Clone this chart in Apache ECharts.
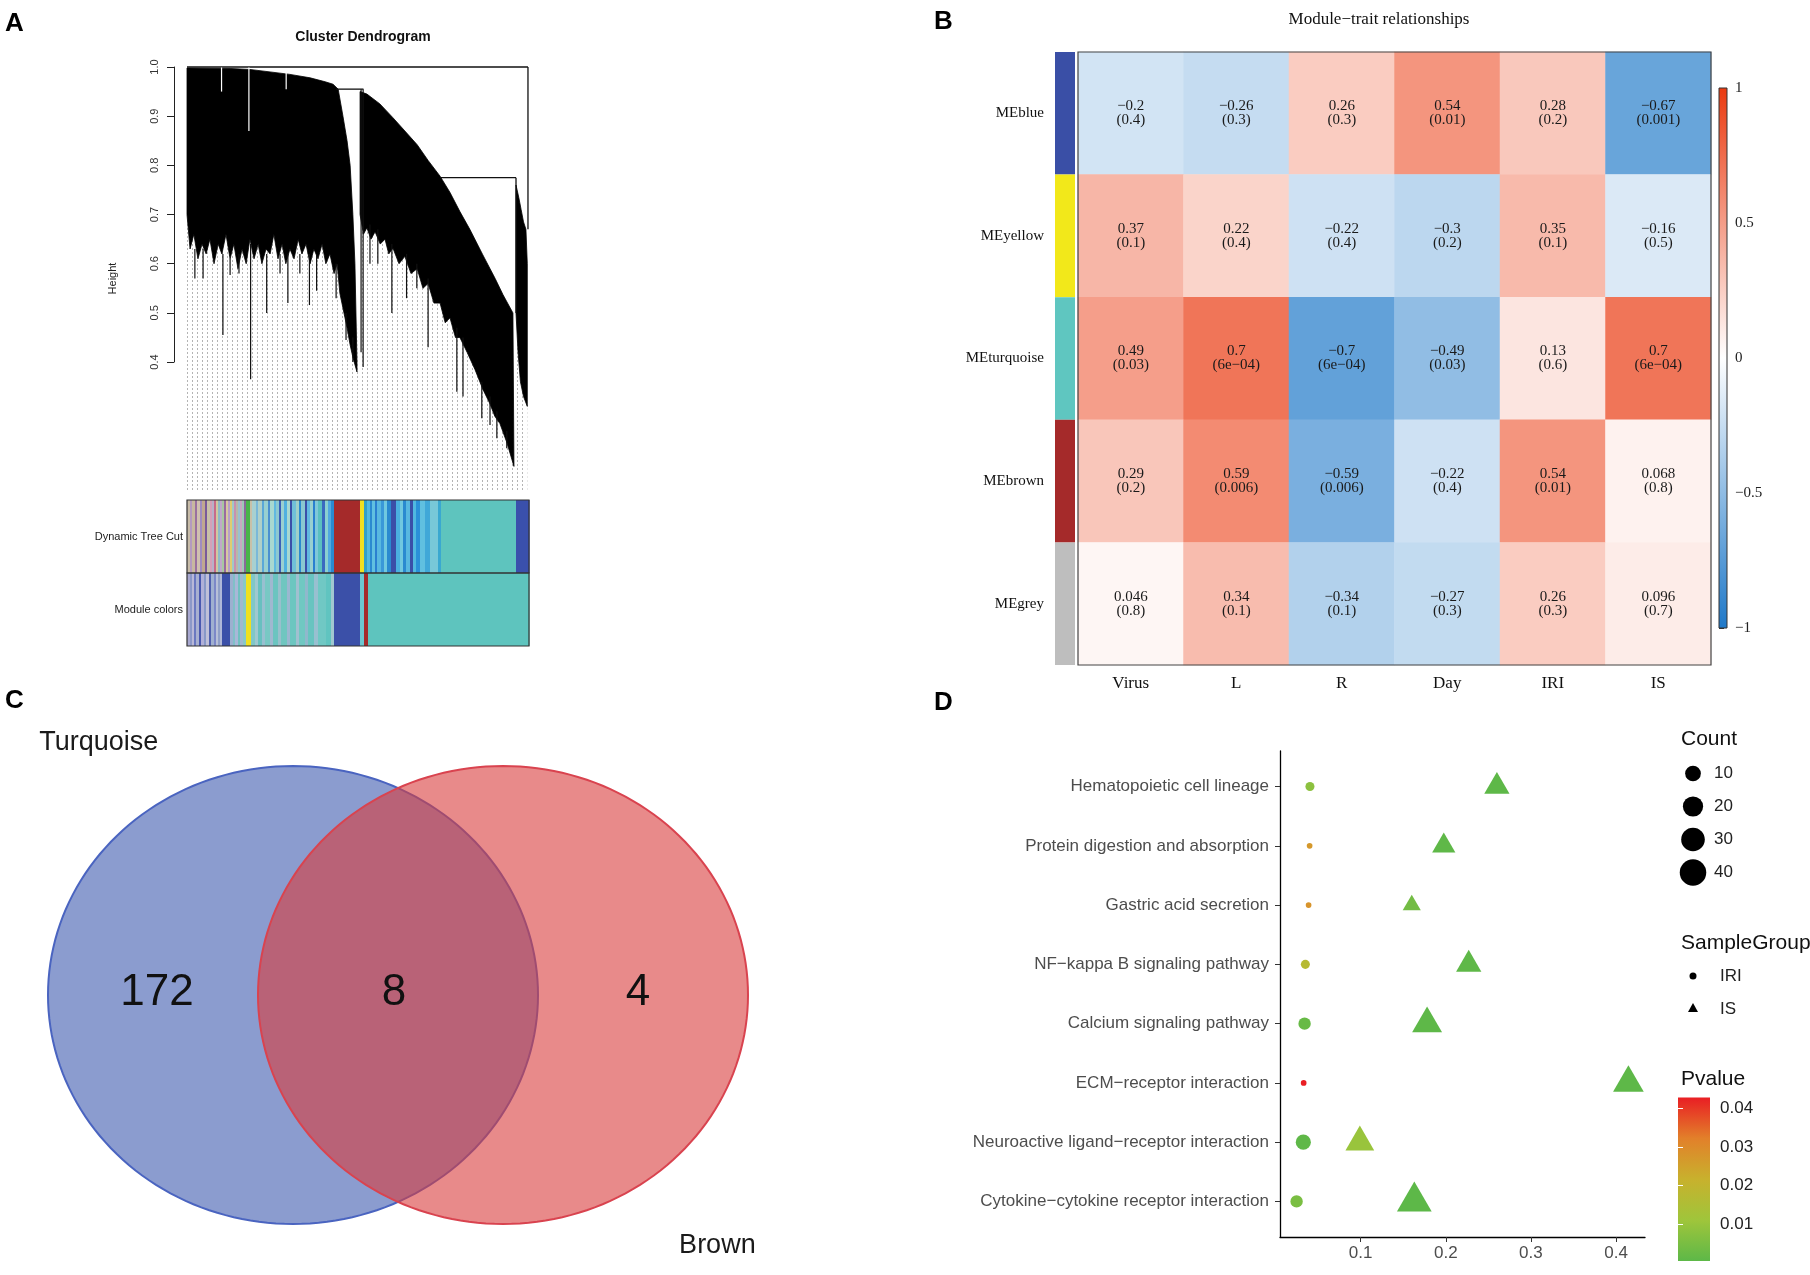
<!DOCTYPE html>
<html><head><meta charset="utf-8">
<script src="https://cdn.jsdelivr.net/npm/echarts@6/dist/echarts.min.js"></script>
<style>html,body{margin:0;padding:0;background:#fff}#c{width:1810px;height:1275px}</style>
</head><body><div id="c"></div>
<script>
// ---------------- Panel A : dendrogram (leaf position 0..1, merge height) ----------------
const heightTicks = [0.4, 0.5, 0.6, 0.7, 0.8, 0.9, 1.0];
const block1Upper = [[0.000,0.998],[0.126,0.997],[0.184,0.995],[0.243,0.990],[0.301,0.985],[0.360,0.978],[0.404,0.970],[0.427,0.965],[0.442,0.955],[0.456,0.900],[0.468,0.850],[0.477,0.800],[0.485,0.700],[0.491,0.600],[0.497,0.400]];
const block1Lower = [[0.000,0.70],[0.009,0.63],[0.020,0.66],[0.032,0.61],[0.044,0.64],[0.056,0.62],[0.067,0.65],[0.079,0.60],[0.091,0.64],[0.102,0.62],[0.114,0.66],[0.126,0.61],[0.137,0.64],[0.149,0.59],[0.161,0.63],[0.173,0.60],[0.184,0.65],[0.196,0.61],[0.208,0.64],[0.219,0.60],[0.231,0.63],[0.243,0.62],[0.254,0.66],[0.266,0.61],[0.278,0.64],[0.289,0.60],[0.301,0.63],[0.313,0.61],[0.325,0.65],[0.336,0.62],[0.348,0.64],[0.360,0.60],[0.371,0.63],[0.383,0.61],[0.395,0.64],[0.406,0.60],[0.418,0.62],[0.430,0.58],[0.439,0.60],[0.447,0.54],[0.456,0.51],[0.468,0.47],[0.477,0.435],[0.485,0.41],[0.497,0.38]];
const block2Upper = [[0.506,0.950],[0.526,0.945],[0.564,0.925],[0.602,0.897],[0.637,0.870],[0.673,0.842],[0.705,0.810],[0.740,0.778],[0.769,0.745],[0.798,0.706],[0.827,0.670],[0.865,0.618],[0.901,0.570],[0.924,0.537],[0.953,0.500],[0.956,0.190]];
const block2Lower = [[0.506,0.70],[0.516,0.66],[0.526,0.673],[0.538,0.65],[0.550,0.665],[0.565,0.64],[0.579,0.650],[0.590,0.62],[0.602,0.632],[0.620,0.60],[0.637,0.615],[0.655,0.58],[0.673,0.590],[0.690,0.55],[0.705,0.560],[0.722,0.52],[0.740,0.520],[0.755,0.48],[0.769,0.490],[0.785,0.45],[0.798,0.450],[0.819,0.420],[0.842,0.385],[0.865,0.345],[0.886,0.315],[0.900,0.29],[0.915,0.275],[0.936,0.235],[0.956,0.188]];
const block3Upper = [[0.962,0.760],[0.970,0.735],[0.977,0.710],[0.984,0.685],[0.991,0.670],[0.995,0.600]];
const block3Lower = [[0.962,0.50],[0.968,0.42],[0.975,0.36],[0.984,0.33],[0.995,0.31]];
// merges: [leafFrom, height, leafTo, height]
const dendroMerges = [[0,1.0,0.997,1.0],[0.997,1.0,0.997,0.67],[0.436,0.955,0.516,0.955],[0.740,0.775,0.962,0.775],[0.962,0.775,0.962,0.50]];
// spikes: [leaf, from height, tip height]
const dendroSpikes = [[0.023,0.63,0.57],[0.047,0.63,0.57],[0.105,0.62,0.455],[0.126,0.61,0.577],[0.152,0.62,0.58],[0.186,0.64,0.365],[0.233,0.62,0.50],[0.272,0.62,0.58],[0.295,0.62,0.52],[0.330,0.62,0.58],[0.358,0.62,0.516],[0.379,0.62,0.545],[0.436,0.60,0.53],[0.465,0.50,0.445],[0.485,0.45,0.40],[0.509,0.955,0.42],[0.515,0.955,0.39],[0.535,0.68,0.60],[0.558,0.67,0.60],[0.599,0.64,0.50],[0.642,0.62,0.53],[0.672,0.60,0.55],[0.705,0.57,0.43],[0.789,0.47,0.34],[0.807,0.45,0.33],[0.862,0.36,0.286],[0.886,0.33,0.272],[0.906,0.30,0.245],[0.935,0.26,0.225]];
const dendroGaps = [[0.101,0.999,0.95],[0.181,0.999,0.87],[0.290,0.99,0.955]];
// colour rows: [relative width, colour]
const treeCutSegments = [[3,'#c8bca8'],[2,'#b49ac0'],[3,'#c8b8a0'],[2,'#9a70a0'],[3,'#d0c0b0'],[2,'#a08cc0'],[3,'#c0a890'],[2,'#7a5a9a'],[3,'#c8c0a8'],[2,'#d4a0b8'],[2,'#b8b0c8'],[2,'#c86a8a'],[2,'#d0c8a0'],[2,'#8fb8c8'],[2,'#c0a8c8'],[2,'#a8c8a0'],[2,'#9a6aa0'],[2,'#d8c8a0'],[2,'#b8a0c8'],[2,'#e0cc70'],[2,'#a0c8c8'],[2,'#c890b0'],[2,'#b8b8a8'],[2,'#9ac0d0'],[2,'#c8a8c0'],[2,'#a0c8b8'],[2,'#8a6a9a'],[4,'#48b448'],[2,'#c8c0a8'],[4,'#a8d0d0'],[2,'#7ab8d8'],[4,'#b0d0c8'],[2,'#5aa8d8'],[4,'#98d0d0'],[2,'#4a90d0'],[4,'#a8d8d0'],[2,'#60b8e0'],[3,'#8cc8d0'],[2,'#3a60b8'],[3,'#9ad0d0'],[3,'#50b0e0'],[3,'#a8d8d0'],[2,'#3b4fa8'],[4,'#70c0d8'],[3,'#a0d0c8'],[2,'#2a8ad0'],[4,'#8ac8d0'],[2,'#3b4fa8'],[3,'#60b8e0'],[3,'#98d0d0'],[2,'#2a80d0'],[3,'#80c8d8'],[4,'#5ac0c0'],[3,'#3a6ac0'],[3,'#8ad0d0'],[3,'#50a8e0'],[3,'#2a8ad0'],[26,'#a52a2a'],[4,'#f0e020'],[3,'#30a0c8'],[3,'#50b8e0'],[2,'#2a8ad0'],[3,'#60c0e0'],[2,'#2a80d0'],[4,'#58b8e0'],[3,'#3a98d8'],[3,'#70c8e0'],[4,'#2a8ad0'],[5,'#3b4fa8'],[4,'#4ab0e0'],[3,'#70c8e0'],[3,'#2a8ad0'],[4,'#58b8e0'],[3,'#3a4fa8'],[3,'#50b8e0'],[4,'#2a90d8'],[5,'#60c0e0'],[5,'#40a8d8'],[8,'#78c8d8'],[3,'#3aa8d0'],[75,'#5ec4be'],[13,'#3a50ac']];
const moduleColorSegments = [[3,'#a8a8d0'],[2,'#8c98c8'],[2,'#b8b8d8'],[2,'#6a78c0'],[3,'#a8b0d0'],[2,'#4a58b0'],[3,'#b0b0d8'],[2,'#8898c8'],[3,'#c0c0d8'],[2,'#5060b0'],[3,'#a0b0d0'],[2,'#7c88c8'],[2,'#b8c0d8'],[2,'#90a0c8'],[2,'#b0b8d8'],[8,'#3b50a8'],[3,'#9cb0d0'],[2,'#80c0c8'],[3,'#a8b8d8'],[2,'#70c0c0'],[3,'#a0b8d0'],[3,'#88c8c8'],[5,'#f0e020'],[4,'#80c8c8'],[3,'#a0c8d0'],[4,'#68c0c0'],[3,'#98c0d0'],[5,'#78c8c4'],[3,'#a0b8d0'],[5,'#6cc4c0'],[3,'#98c0cc'],[6,'#70c6c0'],[3,'#9ab8d0'],[6,'#6cc6c0'],[3,'#a0c0d0'],[6,'#70c8c2'],[3,'#90b8cc'],[6,'#68c4c0'],[4,'#98c0d0'],[8,'#70c8c4'],[5,'#60c4c0'],[3,'#a0c8d0'],[26,'#3b50a8'],[4,'#6cc8d0'],[4,'#a52a2a'],[161,'#5ec4be']];
const colorRows = ['Dynamic Tree Cut', 'Module colors'];

// ---------------- Panel B : module-trait heatmap ----------------
const modules = ['MEblue','MEyellow','MEturquoise','MEbrown','MEgrey'];
const moduleStripColors = ['#3a4fa6','#f2e81a','#5fc6c0','#a52a2a','#bebebe'];
const traits = ['Virus','L','R','Day','IRI','IS'];
const corValues = [
  [-0.2, -0.26, 0.26, 0.54, 0.28, -0.67],
  [0.37, 0.22, -0.22, -0.3, 0.35, -0.16],
  [0.49, 0.7, -0.7, -0.49, 0.13, 0.7],
  [0.29, 0.59, -0.59, -0.22, 0.54, 0.068],
  [0.046, 0.34, -0.34, -0.27, 0.26, 0.096]
];
const corPvalues = [
  [0.4, 0.3, 0.3, 0.01, 0.2, 0.001],
  [0.1, 0.4, 0.4, 0.2, 0.1, 0.5],
  [0.03, 0.0006, 0.0006, 0.03, 0.6, 0.0006],
  [0.2, 0.006, 0.006, 0.4, 0.01, 0.8],
  [0.8, 0.1, 0.1, 0.3, 0.3, 0.7]
];
const heatColors = ['#1e78c8', '#ffffff', '#ea3a10'];

// ---------------- Panel C : Venn ----------------
const vennSets = ['Turquoise', 'Brown'];
const vennCounts = [172, 8, 4]; // turquoise only, both, brown only

// ---------------- Panel D : KEGG dot plot ----------------
const pathways = ['Hematopoietic cell lineage','Protein digestion and absorption','Gastric acid secretion','NF\u2212kappa B signaling pathway','Calcium signaling pathway','ECM\u2212receptor interaction','Neuroactive ligand\u2212receptor interaction','Cytokine\u2212cytokine receptor interaction'];
const iriRatio  = [0.0404, 0.0400, 0.0388, 0.0350, 0.0341, 0.0330, 0.0326, 0.0247];
const iriCount  = [2, 1, 1, 2, 5, 1, 9, 5];
const iriPvalue = [0.008, 0.027, 0.028, 0.017, 0.002, 0.0429, 0.0008, 0.005];
const isRatio   = [0.260, 0.1976, 0.160, 0.2269, 0.178, 0.4145, 0.099, 0.163];
const isCount   = [20, 16, 8, 20, 31, 33, 28, 45];
const isPvalue  = [0.0006, 0.0008, 0.004, 0.0007, 0.0005, 0.0006, 0.010, 0.0004];
const countBreaks = [10, 20, 30, 40];
const groupNames = ['IRI', 'IS'];
const pvalueBreaks = [0.01, 0.02, 0.03, 0.04];
const pColors = ['#5db848', '#9fc53b', '#c8b12d', '#e2802a', '#e91e24'];

// ================= build =================
const SANS = 'Liberation Sans', SERIF = 'Liberation Serif';
const chart = echarts.init(document.getElementById('c'), null, {width:1810, height:1275});

const grids = [], xAxes = [], yAxes = [], series = [];
function addGrid(g, xa, ya){ grids.push(Object.assign({containLabel:false}, g)); const gi = grids.length-1;
  xAxes.push(Object.assign({gridIndex:gi}, xa)); yAxes.push(Object.assign({gridIndex:gi}, ya)); return gi; }

// --- A: axis only grid
const gAxis = addGrid({left:174, top:67, width:1, height:295},
  {type:'value', show:false, min:0, max:1},
  {type:'value', min:0.4, max:1.0, interval:0.1,
   axisLine:{show:true, lineStyle:{color:'#222', width:1}},
   axisTick:{show:true, length:7, lineStyle:{color:'#222'}},
   axisLabel:{rotate:90, fontSize:11, color:'#333', margin:14, formatter:v=>v.toFixed(1)},
   splitLine:{show:false}});
// --- A: dendrogram grid
const gDend = addGrid({left:187, top:67, width:342, height:423},
  {type:'value', show:false, min:0, max:1},
  {type:'value', min:0.14, max:1.0, axisLine:{show:false}, axisTick:{show:false}, axisLabel:{show:false}, splitLine:{show:false},
   name:'Height', nameLocation:'middle', nameGap:69, nameRotate:90, nameTextStyle:{fontSize:11, color:'#222', fontFamily:SANS}});

const pat = document.createElement('canvas'); pat.width = 5; pat.height = 4;
const pc = pat.getContext('2d'); pc.fillStyle = '#fff'; pc.fillRect(0,0,5,4); pc.fillStyle = '#b4b4b4'; pc.fillRect(2,0,1,2);
const guideFill = {type:'pattern', image: pat, repeat:'repeat'};
const allLower = block1Lower.concat(block2Lower, block3Lower);
series.push({type:'custom', xAxisIndex:gDend, yAxisIndex:gDend, silent:true, z:1,
  data:[[0.5,0.5]],
  renderItem:(params, api)=>{
    const pts = allLower.map(p=>api.coord(p));
    pts.push(api.coord([allLower[allLower.length-1][0], 0.14]));
    pts.push(api.coord([0, 0.14]));
    return {type:'polygon', shape:{points:pts}, style:{fill:guideFill}};
  }});
const dendroBlocks = [{upper:block1Upper, lower:block1Lower},{upper:block2Upper, lower:block2Lower},{upper:block3Upper, lower:block3Lower}];
series.push({type:'custom', xAxisIndex:gDend, yAxisIndex:gDend, silent:true, z:2,
  data:dendroBlocks.map(()=>[0.5,0.5]),
  renderItem:(params, api)=>{
    const b = dendroBlocks[params.dataIndex];
    const up = b.upper.map(p=>api.coord(p));
    const lo = b.lower.map(p=>api.coord(p)).reverse();
    return {type:'polygon', shape:{points:up.concat(lo)}, style:{fill:'#000', stroke:'#000', lineWidth:0.8}};
  }});
const dendroSegments = []
  .concat(dendroMerges.map(m=>({a:[m[0],m[1]], b:[m[2],m[3]], color:'#111', w:1.3})))
  .concat(dendroSpikes.map(s=>({a:[s[0],s[1]], b:[s[0],s[2]], color:'#111', w:1.2})))
  .concat(dendroGaps.map(s=>({a:[s[0],s[1]], b:[s[0],s[2]], color:'#fff', w:1.2})));
series.push({type:'custom', xAxisIndex:gDend, yAxisIndex:gDend, silent:true, z:3,
  data:dendroSegments.map(()=>[0.5,0.5]),
  renderItem:(params, api)=>{
    const s = dendroSegments[params.dataIndex];
    const p1 = api.coord(s.a), p2 = api.coord(s.b);
    return {type:'line', shape:{x1:p1[0], y1:p1[1], x2:p2[0], y2:p2[1]}, style:{stroke:s.color, lineWidth:s.w}};
  }});

// --- A: colour rows
const gRows = addGrid({left:187, top:500, width:342, height:146},
  {type:'value', show:false, min:0, max:1},
  {type:'category', data:colorRows, inverse:true, axisLine:{show:false}, axisTick:{show:false},
   axisLabel:{fontSize:11, color:'#222', margin:4, fontFamily:SANS}});
function buildStripes(segs, row){ const total = segs.reduce((a,s)=>a+s[0],0); let acc = 0;
  return segs.map(s=>{ const st = acc/total; acc += s[0]; return {s:st, e:acc/total, row:row, color:s[1]}; }); }
const stripeItems = buildStripes(treeCutSegments, 0).concat(buildStripes(moduleColorSegments, 1));
series.push({type:'custom', xAxisIndex:gRows, yAxisIndex:gRows, silent:true,
  data:stripeItems.map(d=>[d.s, d.row]),
  renderItem:(params, api)=>{
    const d = stripeItems[params.dataIndex];
    const p0 = api.coord([d.s, d.row]), p1 = api.coord([d.e, d.row]); const h = api.size([0,1])[1];
    return {type:'rect', shape:{x:p0[0], y:p0[1]-h/2, width:p1[0]-p0[0]+0.6, height:h}, style:{fill:d.color}};
  }});
series.push({type:'custom', xAxisIndex:gRows, yAxisIndex:gRows, silent:true, z:4,
  data:colorRows.map((r,i)=>[0, i]),
  renderItem:(params, api)=>{
    const p0 = api.coord([0, params.dataIndex]), p1 = api.coord([1, params.dataIndex]); const h = api.size([0,1])[1];
    return {type:'rect', shape:{x:p0[0], y:p0[1]-h/2, width:p1[0]-p0[0], height:h}, style:{fill:'none', stroke:'#333', lineWidth:1.2}};
  }});

// --- B: heatmap
const gHeat = addGrid({left:1078, top:52, width:633, height:613, show:true, borderColor:'#444', borderWidth:1.2, backgroundColor:'transparent', z:10},
  {type:'category', data:traits, axisLine:{show:false}, axisTick:{show:false}, splitLine:{show:false},
   axisLabel:{fontFamily:SERIF, fontSize:17, color:'#111', margin:10}},
  {type:'category', data:modules, inverse:true, axisLine:{show:false}, axisTick:{show:false}, splitLine:{show:false},
   axisLabel:{fontFamily:SERIF, fontSize:15, color:'#111', margin:34}});
function fmtR(v){ return String(v).replace('-', '\u2212'); }
function fmtP(p){ if (p < 0.001){ const parts = p.toExponential(0).split('e'); const n = parseInt(parts[1],10);
  return parts[0] + 'e' + (n<0?'\u2212':'+') + String(Math.abs(n)).padStart(2,'0'); } return String(p); }
const heatData = [];
modules.forEach((m, r)=>traits.forEach((t, c)=>heatData.push([c, r, corValues[r][c]])));
const heatIdx = series.length;
series.push({type:'heatmap', xAxisIndex:gHeat, yAxisIndex:gHeat, data:heatData, silent:true,
  label:{show:true, fontFamily:SERIF, fontSize:15, lineHeight:14, color:'#1a1a1a',
    formatter:(p)=>fmtR(p.data[2]) + '\n(' + fmtP(corPvalues[p.data[1]][p.data[0]]) + ')'},
  itemStyle:{borderWidth:0}});
// module colour strip
const gStrip = addGrid({left:1055, top:52, width:20, height:613},
  {type:'value', show:false, min:0, max:1},
  {type:'category', data:modules, inverse:true, show:false});
series.push({type:'bar', xAxisIndex:gStrip, yAxisIndex:gStrip, silent:true, barWidth:'100%', barCategoryGap:'0%',
  data:moduleStripColors.map(c=>({value:1, itemStyle:{color:c}}))});
// colour bar
const gHeatBar = addGrid({left:1719, top:88, width:8, height:540},
  {type:'value', show:false, min:0, max:1},
  {type:'value', min:-1, max:1, interval:0.5, position:'right', axisLine:{show:false}, splitLine:{show:false},
   axisTick:{show:true, length:5, lineStyle:{color:'#333'}},
   axisLabel:{fontFamily:SERIF, fontSize:15, color:'#222', margin:8, formatter:v=>fmtR(v)}});
series.push({type:'custom', xAxisIndex:gHeatBar, yAxisIndex:gHeatBar, silent:true, data:[[0,0]],
  renderItem:(params, api)=>{
    const p0 = api.coord([0, 1]), p1 = api.coord([1, -1]);
    const grad = new echarts.graphic.LinearGradient(0, 1, 0, 0, heatColors.map((c,i)=>({offset:i/(heatColors.length-1), color:c})));
    return {type:'rect', shape:{x:p0[0], y:p0[1], width:p1[0]-p0[0], height:p1[1]-p0[1]}, style:{fill:grad, stroke:'#333', lineWidth:1}};
  }});

// --- C: Venn
const vennOffset = 210/490;
const gVenn = addGrid({left:48, top:766, width:700, height:458},
  {type:'value', show:false, min:0, max:1 + vennOffset},
  {type:'value', show:false, min:0, max:1});
const vennFill = ['rgba(62,90,175,0.6)', 'rgba(217,60,60,0.6)'];
const vennStroke = ['#4a64c0', '#d9434f'];
series.push({type:'custom', xAxisIndex:gVenn, yAxisIndex:gVenn, silent:true,
  data:vennSets.map((s,i)=>[0.5 + i*vennOffset, 0.5]),
  renderItem:(params, api)=>{
    const i = params.dataIndex;
    const c = api.coord([0.5 + i*vennOffset, 0.5]); const s = api.size([0.5, 0.5]);
    const pts = []; for (let k=0;k<180;k++){ const t = k/180*2*Math.PI; pts.push([c[0] + s[0]*Math.cos(t), c[1] + s[1]*Math.sin(t)]); }
    const labPos = i === 0 ? api.coord([-0.018, 1.052]) : api.coord([1.288, -0.048]);
    return {type:'group', children:[
      {type:'polygon', shape:{points:pts}, style:{fill:vennFill[i], stroke:vennStroke[i], lineWidth:2}},
      {type:'text', x:labPos[0], y:labPos[1], style:{text:vennSets[i], fontFamily:SANS, fontSize:27, fill:'#1a1a1a', textAlign:'left', textVerticalAlign:'middle'}}
    ]};
  }});
// region label centres, nudged slightly towards the middle of the diagram
const vennLabelX = [vennOffset/2 + 0.008, (vennOffset + 1)/2 - 0.008, (2 + vennOffset)/2 - 0.01];
series.push({type:'custom', xAxisIndex:gVenn, yAxisIndex:gVenn, silent:true, z:5,
  data:vennCounts.map((v,i)=>[vennLabelX[i], 0.5]),
  renderItem:(params, api)=>{
    const p = api.coord([vennLabelX[params.dataIndex], 0.505]);
    return {type:'text', x:p[0], y:p[1], style:{text:String(vennCounts[params.dataIndex]), fontFamily:SANS, fontSize:44, fill:'#111', textAlign:'center', textVerticalAlign:'middle'}};
  }});

// --- D: dot plot
const allRatio = iriRatio.concat(isRatio);
const rMin = Math.min(...allRatio), rMax = Math.max(...allRatio), rPad = 0.05*(rMax - rMin);
const allCount = iriCount.concat(isCount);
const cMin = Math.min(...allCount), cMax = Math.max(...allCount);
function countDiameter(c){ return 5.7 + 22.1*Math.sqrt(Math.max(0, c - cMin)/(cMax - cMin)); }
const allP = iriPvalue.concat(isPvalue);
const pMin = Math.min(...allP), pMax = Math.max(...allP);
const nPath = pathways.length;
const yTickVals = pathways.map((p,i)=>nPath - i);
const gDot = addGrid({left:1280, top:751, width:365, height:486},
  {type:'value', min:rMin - rPad, max:rMax + rPad, splitLine:{show:false},
   axisLine:{show:true, lineStyle:{color:'#000', width:1.3}},
   axisTick:{show:true, length:5, customValues:[0.1,0.2,0.3,0.4], lineStyle:{color:'#333'}},
   axisLabel:{customValues:[0.1,0.2,0.3,0.4], fontFamily:SANS, fontSize:17, color:'#4d4d4d', margin:8, formatter:v=>String(+v.toFixed(1))}},
  {type:'value', min:0.4, max:nPath + 0.6, splitLine:{show:false},
   axisLine:{show:true, lineStyle:{color:'#000', width:1.3}},
   axisTick:{show:true, length:5, customValues:yTickVals, lineStyle:{color:'#333'}},
   axisLabel:{customValues:yTickVals, fontFamily:SANS, fontSize:17, color:'#4d4d4d', margin:11, formatter:v=>pathways[nPath - Math.round(v)]}});
const iriIdx = series.length;
series.push({type:'scatter', xAxisIndex:gDot, yAxisIndex:gDot, symbol:'circle', silent:true, itemStyle:{opacity:1},
  data:pathways.map((p,i)=>({value:[iriRatio[i], nPath - i, iriCount[i], iriPvalue[i]], symbolSize:countDiameter(iriCount[i])}))});
const isIdx = series.length;
series.push({type:'scatter', xAxisIndex:gDot, yAxisIndex:gDot, symbol:'triangle', silent:true, itemStyle:{opacity:1},
  data:pathways.map((p,i)=>{ const d = countDiameter(isCount[i]); const w = 1.25*d, h = 1.08*d;
    return {value:[isRatio[i], nPath - i, isCount[i], isPvalue[i]], symbolSize:[w,h], symbolOffset:[0, -h/6]}; })});
// Count legend
const gCnt = addGrid({left:1682, top:757, width:22, height:132},
  {type:'value', show:false, min:0, max:1},
  {type:'category', data:countBreaks.map(String), inverse:true, position:'right', axisLine:{show:false}, axisTick:{show:false},
   axisLabel:{fontFamily:SANS, fontSize:17, color:'#222', margin:10}});
series.push({type:'scatter', xAxisIndex:gCnt, yAxisIndex:gCnt, symbol:'circle', silent:true, itemStyle:{color:'#000', opacity:1},
  data:countBreaks.map((c,i)=>({value:[0.5, i], symbolSize:countDiameter(c)}))});
// SampleGroup legend
const gGrp = addGrid({left:1682, top:959.5, width:22, height:66},
  {type:'value', show:false, min:0, max:1},
  {type:'category', data:groupNames, inverse:true, position:'right', axisLine:{show:false}, axisTick:{show:false},
   axisLabel:{fontFamily:SANS, fontSize:17, color:'#222', margin:16}});
series.push({type:'scatter', xAxisIndex:gGrp, yAxisIndex:gGrp, silent:true, itemStyle:{color:'#000', opacity:1},
  data:[{value:[0.5,0], symbol:'circle', symbolSize:7},{value:[0.5,1], symbol:'triangle', symbolSize:[10,9], symbolOffset:[0,-1.5]}]});
// Pvalue colour bar
const gPbar = addGrid({left:1678, top:1097.5, width:32, height:163.5},
  {type:'value', show:false, min:0, max:1},
  {type:'value', min:pMin, max:pMax, position:'right', z:10, axisLine:{show:false}, splitLine:{show:false},
   axisTick:{show:true, inside:true, length:5, customValues:pvalueBreaks, lineStyle:{color:'#fff', width:1}},
   axisLabel:{customValues:pvalueBreaks, fontFamily:SANS, fontSize:17, color:'#222', margin:10, formatter:v=>v.toFixed(2)}});
yAxes.push({gridIndex:gPbar, type:'value', min:pMin, max:pMax, position:'left', z:10, axisLine:{show:false}, splitLine:{show:false}, axisLabel:{show:false},
  axisTick:{show:true, inside:true, length:5, customValues:pvalueBreaks, lineStyle:{color:'#fff', width:1}}});
series.push({type:'custom', xAxisIndex:gPbar, yAxisIndex:gPbar, silent:true, data:[[0,pMin]],
  renderItem:(params, api)=>{
    const p0 = api.coord([0, pMax]), p1 = api.coord([1, pMin]);
    const grad = new echarts.graphic.LinearGradient(0, 1, 0, 0, pColors.map((c,i)=>({offset:i/(pColors.length-1), color:c})));
    return {type:'rect', shape:{x:p0[0], y:p0[1], width:p1[0]-p0[0], height:p1[1]-p0[1]}, style:{fill:grad}};
  }});

const titles = [
  {text:'A', left:0, top:6, textStyle:{fontFamily:SANS, fontWeight:'bold', fontSize:26, color:'#000'}},
  {text:'B', left:929, top:4, textStyle:{fontFamily:SANS, fontWeight:'bold', fontSize:26, color:'#000'}},
  {text:'C', left:0, top:683, textStyle:{fontFamily:SANS, fontWeight:'bold', fontSize:26, color:'#000'}},
  {text:'D', left:929, top:685, textStyle:{fontFamily:SANS, fontWeight:'bold', fontSize:26, color:'#000'}},
  {text:'Cluster Dendrogram', left:358, top:25, textAlign:'center', textStyle:{fontFamily:SANS, fontWeight:'bold', fontSize:14, color:'#111'}},
  {text:'Module\u2212trait relationships', left:1374, top:6, textAlign:'center', textStyle:{fontFamily:SERIF, fontWeight:'normal', fontSize:17, color:'#111'}},
  {text:'Count', left:1676, top:724, textStyle:{fontFamily:SANS, fontWeight:'normal', fontSize:21, color:'#111'}},
  {text:'SampleGroup', left:1676, top:928, textStyle:{fontFamily:SANS, fontWeight:'normal', fontSize:21, color:'#111'}},
  {text:'Pvalue', left:1676, top:1064, textStyle:{fontFamily:SANS, fontWeight:'normal', fontSize:21, color:'#111'}}
];

chart.setOption({
  animation:false,
  backgroundColor:'#fff',
  textStyle:{fontFamily:SANS},
  title:titles,
  grid:grids, xAxis:xAxes, yAxis:yAxes,
  visualMap:[
    {type:'continuous', show:false, seriesIndex:heatIdx, dimension:2, min:-1, max:1, inRange:{color:heatColors}},
    {type:'continuous', show:false, seriesIndex:[iriIdx, isIdx], dimension:3, min:pMin, max:pMax, inRange:{color:pColors}}
  ],
  series:series
});
</script></body></html>
